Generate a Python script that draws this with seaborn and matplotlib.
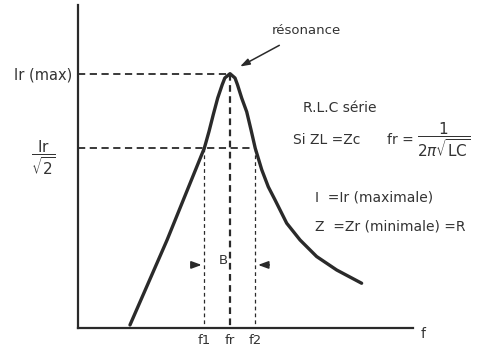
import matplotlib
matplotlib.use("Agg")
import matplotlib.pyplot as plt
import numpy as np
import pandas as pd
import seaborn as sns

# resonance curve (f in arbitrary units, I relative to Ir)
freq = [34.2, 58.6, 83.1, 86.2, 89.0, 91.9, 94.9, 96.6, 100.0, 103.3, 104.9,
        107.7, 111.0, 113.8, 116.6, 120.9, 125.2, 129.6, 137.3, 146.1, 157.0,
        170.2, 186.6]
current = [0.012, 0.346, 0.707, 0.773, 0.839, 0.904, 0.957, 0.983, 1.0, 0.983,
           0.957, 0.904, 0.850, 0.780, 0.707, 0.622, 0.555, 0.504, 0.412,
           0.346, 0.281, 0.228, 0.176]

f1, fr, f2 = 83.2, 100.0, 116.6
i_max = 1.0
i_cut = 1 / np.sqrt(2)

xtick_labels = ["f1", "fr", "f2"]
ytick_labels = [r"$\dfrac{\mathrm{Ir}}{\sqrt{2}}$    ", "Ir (max)"]

sns.set_style("white")
plt.rcParams["font.family"] = ["DejaVu Sans"]
ink = "#2a2a2a"
txt = "#333333"

fig = plt.figure(figsize=(4.85, 3.53), dpi=100)
ax = fig.add_axes([78 / 485, 25 / 353, 335 / 485, 323 / 353])

df = pd.DataFrame({"f": freq, "I": current})
sns.lineplot(data=df, x="f", y="I", ax=ax, color=ink, lw=2.4, sort=False,
             solid_joinstyle="round", solid_capstyle="round")

# guide lines
ax.plot([0, fr], [i_max, i_max], ls=(0, (4, 2.5)), color=ink, lw=1.3)
ax.plot([fr, fr], [i_max, 0], ls=(0, (3, 2)), color=ink, lw=1.6)
ax.plot([0, f2], [i_cut, i_cut], ls=(0, (4, 2.5)), color=ink, lw=1.3)
ax.plot([f1, f1], [i_cut, 0], ls=(0, (3, 2.5)), color=ink, lw=0.9)
ax.plot([f2, f2], [i_cut, 0], ls=(0, (3, 2.5)), color=ink, lw=0.9)

ax.set_xlim(0, 220.4)
ax.set_ylim(0, 1.27)
ax.set_xticks([f1, fr, f2])
ax.set_xticklabels(xtick_labels, fontsize=9.5, color=txt)
ax.set_yticks([i_cut, i_max])
ax.set_yticklabels(ytick_labels, fontsize=10.5, color=txt)
ax.get_yticklabels()[0].set_fontsize(11)
ax.tick_params(length=0, pad=4)
ax.set_xlabel("")
ax.set_ylabel("")
sns.despine(ax=ax)
for s in ("left", "bottom"):
    ax.spines[s].set_color(ink)
    ax.spines[s].set_linewidth(1.6)

ax.text(227, -0.025, "f", fontsize=10, color=txt, ha="center", va="center",
        clip_on=False)

# bandwidth marks
arrow = dict(arrowstyle="-|>,head_length=0.6,head_width=0.22", color=ink, lw=1.2)
ax.annotate("", xy=(f1, 0.248), xytext=(73, 0.248), arrowprops=arrow)
ax.annotate("", xy=(f2, 0.248), xytext=(127.6, 0.248), arrowprops=arrow)
ax.text(95.5, 0.264, "B", fontsize=9.5, color=txt, ha="center", va="center")

# resonance label
ax.annotate("résonance", xy=(106.6, 1.028), xytext=(150, 1.168),
            fontsize=9.5, color=txt, ha="center", va="center",
            arrowprops=dict(arrowstyle="-|>,head_length=0.6,head_width=0.2",
                            color=ink, lw=1.1, shrinkA=7, shrinkB=0))

ax.text(148, 0.866, "R.L.C série", fontsize=10, color=txt, va="center")
ax.text(141.5, 0.740, "Si ZL =Zc", fontsize=10, color=txt, va="center")
ax.text(203, 0.740, "fr =", fontsize=10, color=txt, va="center")
ax.text(223, 0.742, r"$\dfrac{1}{2\pi\sqrt{\mathrm{LC}}}$", fontsize=11,
        color=txt, va="center")
ax.text(156, 0.512, "I  =Ir (maximale)", fontsize=10, color=txt, va="center")
ax.text(156, 0.398, "Z  =Zr (minimale) =R", fontsize=10, color=txt, va="center")

fig.savefig("out.png", dpi=100, facecolor="white")
